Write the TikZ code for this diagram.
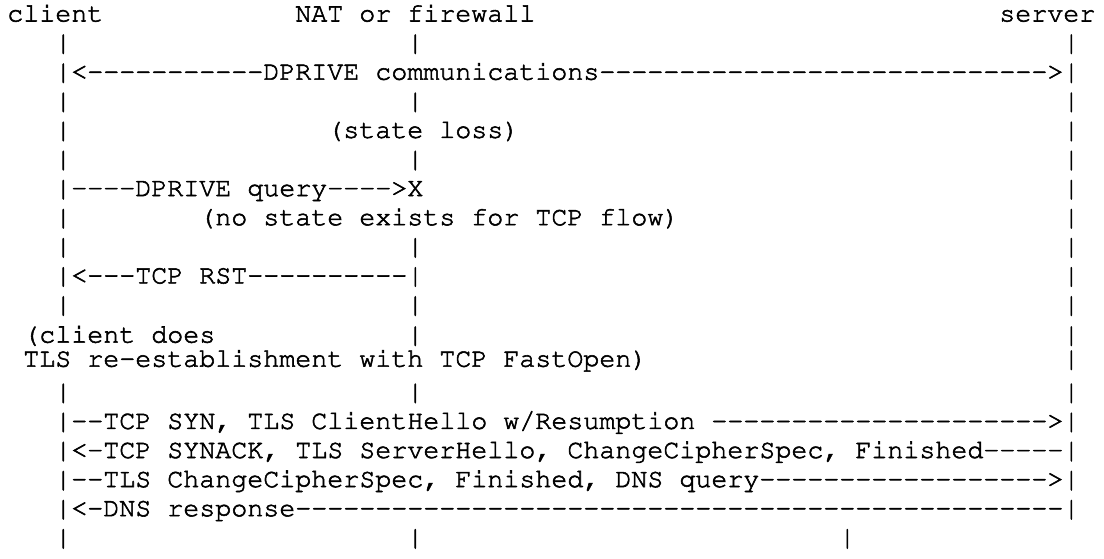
\documentclass[tikz,border=0pt]{standalone}
\usepackage[T1]{fontenc}
\newcount\dshcnt
\newcommand\Dsh[1]{\dshcnt=#1\relax\loop -\kern0pt\advance\dshcnt by -1 \ifnum\dshcnt>0 \repeat}
\newcommand\asciifont{\fontencoding{T1}\fontfamily{pcr}\fontseries{m}\fontshape{n}\fontsize{26.67pt}{29.1pt}\selectfont\frenchspacing\special{pdf:literal direct 2 Tr 0.55 w}}
\tikzset{
  txt/.style={anchor=base west, inner sep=0pt, outer sep=0pt, font=\asciifont, text=black},
  rowtwelve/.style={yshift=-1pt},
  rowthirteen/.style={yshift=4pt},
}
\begin{document}
\begin{tikzpicture}[x=1pt,y=1pt]
\useasboundingbox (0,0) rectangle (1104,-558);
\begin{scope}[x={(16pt,0pt)}, y={(0pt,-29.1pt)}, shift={(7.3pt,7.6pt)}]
% row 1
\node[txt] (client) at (0,1) {client};
\node[txt] (nat) at (18,1) {NAT or firewall};
\node[txt] (server) at (62,1) {server};
% row 2
\node[txt] (b2a) at (3,2) {|};
\node[txt] (b2b) at (25,2) {|};
\node[txt] (b2c) at (66,2) {|};
% row 3
\node[txt] (comms) at (3,3) {|<\Dsh{11}DPRIVE communications\Dsh{28}>|};
% row 4
\node[txt] (b4a) at (3,4) {|};
\node[txt] (b4b) at (25,4) {|};
\node[txt] (b4c) at (66,4) {|};
% row 5
\node[txt] (b5a) at (3,5) {|};
\node[txt] (loss) at (20,5) {(state loss)};
\node[txt] (b5c) at (66,5) {|};
% row 6
\node[txt] (b6a) at (3,6) {|};
\node[txt] (b6b) at (25,6) {|};
\node[txt] (b6c) at (66,6) {|};
% row 7
\node[txt] (query) at (3,7) {|\Dsh{4}DPRIVE query\Dsh{4}>X};
\node[txt] (b7c) at (66,7) {|};
% row 8
\node[txt] (b8a) at (3,8) {|};
\node[txt] (nostate) at (12,8) {(no state exists for TCP flow)};
\node[txt] (b8c) at (66,8) {|};
% row 9
\node[txt] (b9a) at (3,9) {|};
\node[txt] (b9b) at (25,9) {|};
\node[txt] (b9c) at (66,9) {|};
% row 10
\node[txt] (rst) at (3,10) {|<\Dsh{3}TCP RST\Dsh{10}|};
\node[txt] (b10c) at (66,10) {|};
% row 11
\node[txt] (b11a) at (3,11) {|};
\node[txt] (b11b) at (25,11) {|};
\node[txt] (b11c) at (66,11) {|};
% row 12
\node[txt,rowtwelve] (does) at (1,12) {(client does};
\node[txt,rowtwelve] (b12b) at (25,12) {|};
\node[txt,rowtwelve] (b12c) at (66,12) {|};
% row 13
\node[txt,rowthirteen] (reest) at (1,13) {TLS re-establishment with TCP FastOpen)};
\node[txt,rowthirteen] (b13c) at (66,13) {|};
% row 14
\node[txt] (b14a) at (3,14) {|};
\node[txt] (b14b) at (25,14) {|};
\node[txt] (b14c) at (66,14) {|};
% rows 15-18
\node[txt] (syn) at (3,15) {|\Dsh{2}TCP SYN, TLS ClientHello w/Resumption \Dsh{21}>|};
\node[txt] (synack) at (3,16) {|<-TCP SYNACK, TLS ServerHello, ChangeCipherSpec, Finished\Dsh{5}|};
\node[txt] (dnsq) at (3,17) {|\Dsh{2}TLS ChangeCipherSpec, Finished, DNS query\Dsh{18}>|};
\node[txt] (dnsr) at (3,18) {|<-DNS response\Dsh{48}|};
% row 19
\node[txt] (b19a) at (3,19) {|};
\node[txt] (b19b) at (25,19) {|};
\node[txt] (b19c) at (52,19) {|};
\end{scope}
\end{tikzpicture}
\end{document}
